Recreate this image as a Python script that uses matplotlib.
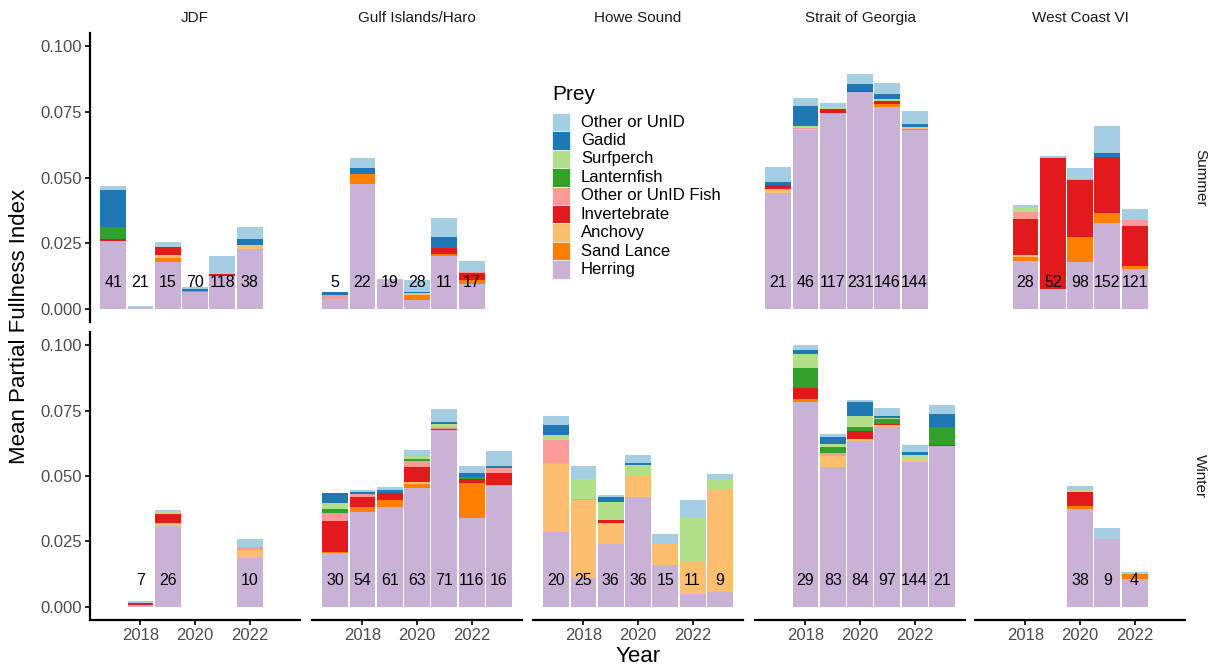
import numpy as np
import matplotlib.pyplot as plt
from matplotlib.patches import Rectangle

plt.rcParams['font.family'] = ['Liberation Sans', 'DejaVu Sans']

# stack order, bottom to top
prey = ['Herring', 'Sand Lance', 'Anchovy', 'Invertebrate', 'Other or UnID Fish',
        'Lanternfish', 'Surfperch', 'Gadid', 'Other or UnID']
prey_colors = ['#CAB2D6', '#FF7F00', '#FDBF6F', '#E31A1C', '#FB9A99',
               '#33A02C', '#B2DF8A', '#1F78B4', '#A6CEE3']

regions = ['JDF', 'Gulf Islands/Haro', 'Howe Sound', 'Strait of Georgia', 'West Coast VI']
seasons = ['Summer', 'Winter']

# ---- Summer ----
jdf_summer_years = [2017, 2018, 2019, 2020, 2021, 2022]
jdf_summer_n = [41, 21, 15, 70, 118, 38]
jdf_summer = [
    [0.0260, 0, 0, 0.0007, 0, 0.0043, 0, 0.0143, 0.0016],
    [0.0005, 0, 0, 0, 0, 0, 0, 0, 0.0006],
    [0.0180, 0.0013, 0.0013, 0.0028, 0, 0, 0, 0, 0.0022],
    [0.0065, 0.0004, 0, 0, 0, 0, 0, 0.0005, 0.0010],
    [0.0125, 0, 0, 0.0008, 0, 0, 0, 0, 0.0068],
    [0.0227, 0, 0.0015, 0, 0, 0, 0, 0.0025, 0.0043],
]

gulf_summer_years = [2017, 2018, 2019, 2020, 2021, 2022]
gulf_summer_n = [5, 22, 19, 28, 11, 17]
gulf_summer = [
    [0.0037, 0, 0, 0, 0.0015, 0, 0, 0.0013, 0],
    [0.0475, 0.0038, 0, 0, 0, 0, 0, 0.0023, 0.0037],
    [0.0110, 0, 0, 0, 0, 0, 0, 0, 0.0002],
    [0.0034, 0.0018, 0.0008, 0, 0, 0, 0, 0.0005, 0.0043],
    [0.0203, 0.0005, 0, 0.0025, 0, 0, 0, 0.0039, 0.0072],
    [0.0094, 0.0016, 0, 0.0027, 0.0004, 0, 0, 0, 0.0043],
]

howe_summer_years = []
howe_summer_n = []
howe_summer = []

sog_summer_years = [2017, 2018, 2019, 2020, 2021, 2022]
sog_summer_n = [21, 46, 117, 231, 146, 144]
sog_summer = [
    [0.0440, 0, 0.0015, 0.0016, 0, 0, 0, 0.0013, 0.0055],
    [0.0681, 0, 0.0003, 0, 0.0003, 0, 0.0009, 0.0077, 0.0028],
    [0.0747, 0, 0, 0.0015, 0, 0, 0.0006, 0, 0.0016],
    [0.0824, 0, 0, 0.0005, 0, 0, 0, 0.0027, 0.0038],
    [0.0768, 0.0010, 0, 0.0013, 0, 0, 0.0008, 0.0018, 0.0042],
    [0.0680, 0.0006, 0.0008, 0, 0, 0, 0, 0.0010, 0.0051],
]

wcvi_summer_years = [2018, 2019, 2020, 2021, 2022]
wcvi_summer_n = [28, 52, 98, 152, 121]
wcvi_summer = [
    [0.0183, 0.0013, 0.0010, 0.0137, 0.0025, 0, 0.0019, 0, 0.0010],
    [0.0077, 0, 0, 0.0496, 0, 0, 0, 0, 0.0010],
    [0.0179, 0.0093, 0, 0.0217, 0.0004, 0, 0, 0, 0.0043],
    [0.0326, 0.0038, 0, 0.0213, 0, 0, 0, 0.0018, 0.0101],
    [0.0151, 0.0013, 0, 0.0150, 0.0025, 0, 0, 0, 0.0042],
]

# ---- Winter ----
jdf_winter_years = [2018, 2019, 2022]
jdf_winter_n = [7, 26, 10]
jdf_winter = [
    [0.0006, 0, 0, 0.0010, 0, 0, 0, 0, 0.0006],
    [0.0310, 0, 0.0011, 0.0033, 0, 0, 0.0011, 0, 0.0004],
    [0.0188, 0, 0.0029, 0, 0.0010, 0, 0, 0, 0.0032],
]

gulf_winter_years = [2017, 2018, 2019, 2020, 2021, 2022, 2023]
gulf_winter_n = [30, 54, 61, 63, 71, 116, 16]
gulf_winter = [
    [0.0205, 0.0003, 0, 0.0122, 0.0029, 0.0014, 0.0025, 0.0036, 0],
    [0.0361, 0.0019, 0, 0.0041, 0.0009, 0, 0, 0.0009, 0.0006],
    [0.0383, 0.0024, 0, 0.0027, 0, 0, 0, 0.0013, 0.0011],
    [0.0454, 0.0015, 0.0009, 0.0056, 0.0024, 0.0008, 0.0010, 0, 0.0025],
    [0.0674, 0, 0, 0.0006, 0.0009, 0, 0.0008, 0.0009, 0.0051],
    [0.0341, 0.0131, 0, 0.0018, 0, 0.0006, 0, 0.0014, 0.0028],
    [0.0466, 0, 0, 0.0047, 0.0017, 0, 0, 0.0009, 0.0057],
]

howe_winter_years = [2017, 2018, 2019, 2020, 2021, 2022, 2023]
howe_winter_n = [20, 25, 36, 36, 15, 11, 9]
howe_winter = [
    [0.0286, 0, 0.0262, 0, 0.0089, 0, 0.0020, 0.0039, 0.0032],
    [0.0112, 0, 0.0296, 0, 0.0004, 0, 0.0076, 0, 0.0052],
    [0.0239, 0, 0.0080, 0.0013, 0, 0, 0.0070, 0.0017, 0.0010],
    [0.0421, 0, 0.0081, 0, 0, 0, 0.0039, 0.0009, 0.0032],
    [0.0160, 0, 0.0080, 0, 0, 0, 0, 0, 0.0037],
    [0.0050, 0, 0.0123, 0, 0, 0, 0.0165, 0, 0.0069],
    [0.0058, 0, 0.0394, 0, 0, 0, 0.0037, 0, 0.0020],
]

sog_winter_years = [2018, 2019, 2020, 2021, 2022, 2023]
sog_winter_n = [29, 83, 84, 97, 144, 21]
sog_winter = [
    [0.0784, 0.0010, 0, 0.0043, 0, 0.0075, 0.0053, 0.0018, 0.0017],
    [0.0533, 0, 0.0043, 0, 0.0011, 0.0023, 0.0011, 0.0028, 0.0011],
    [0.0635, 0, 0.0008, 0.0028, 0, 0.0018, 0.0042, 0.0052, 0.0009],
    [0.0686, 0, 0.0009, 0.0005, 0, 0.0017, 0.0006, 0.0008, 0.0027],
    [0.0553, 0, 0.0011, 0, 0, 0, 0.0018, 0.0010, 0.0027],
    [0.0616, 0, 0, 0.0004, 0, 0.0067, 0, 0.0051, 0.0032],
]

wcvi_winter_years = [2020, 2021, 2022]
wcvi_winter_n = [38, 9, 4]
wcvi_winter = [
    [0.0374, 0.0011, 0, 0.0052, 0, 0, 0.0008, 0, 0.0018],
    [0.0258, 0, 0, 0, 0, 0, 0, 0, 0.0043],
    [0.0107, 0.0018, 0, 0, 0, 0, 0, 0, 0.0010],
]

panels = {
    ('Summer', 'JDF'): (jdf_summer_years, jdf_summer_n, jdf_summer),
    ('Summer', 'Gulf Islands/Haro'): (gulf_summer_years, gulf_summer_n, gulf_summer),
    ('Summer', 'Howe Sound'): (howe_summer_years, howe_summer_n, howe_summer),
    ('Summer', 'Strait of Georgia'): (sog_summer_years, sog_summer_n, sog_summer),
    ('Summer', 'West Coast VI'): (wcvi_summer_years, wcvi_summer_n, wcvi_summer),
    ('Winter', 'JDF'): (jdf_winter_years, jdf_winter_n, jdf_winter),
    ('Winter', 'Gulf Islands/Haro'): (gulf_winter_years, gulf_winter_n, gulf_winter),
    ('Winter', 'Howe Sound'): (howe_winter_years, howe_winter_n, howe_winter),
    ('Winter', 'Strait of Georgia'): (sog_winter_years, sog_winter_n, sog_winter),
    ('Winter', 'West Coast VI'): (wcvi_winter_years, wcvi_winter_n, wcvi_winter),
}

W, H = 1209, 668
fig = plt.figure(figsize=(W / 100, H / 100), dpi=100)

col_left = [90, 312, 533, 755, 975]
col_w = 210
row_top = [33, 332]
row_bot = [322, 620]
grey = '#4D4D4D'

for r, season in enumerate(seasons):
    for c, region in enumerate(regions):
        ax = fig.add_axes([col_left[c] / W, 1 - row_bot[r] / H,
                           col_w / W, (row_bot[r] - row_top[r]) / H])
        years, ns, vals = panels[(season, region)]
        if len(years):
            vals = np.array(vals)
            bottom = np.zeros(len(years))
            for k in range(len(prey)):
                ax.bar(years, vals[:, k], bottom=bottom, width=0.95,
                       color=prey_colors[k], linewidth=0)
                bottom += vals[:, k]
            for yr, n in zip(years, ns):
                ax.text(yr, 0.01, str(n), ha='center', va='center',
                        fontsize=11.5, color='black')
        ax.set_xlim(2016.15, 2023.85)
        ax.set_ylim(-0.005, 0.105)
        ax.patch.set_visible(False)
        for s in ['top', 'right']:
            ax.spines[s].set_visible(False)
        ax.spines['left'].set_visible(c == 0)
        ax.spines['bottom'].set_visible(r == 1)
        ax.spines['left'].set_linewidth(1.6)
        ax.spines['bottom'].set_linewidth(1.6)
        ax.set_yticks([0, 0.025, 0.05, 0.075, 0.1])
        ax.set_yticklabels(['0.000', '0.025', '0.050', '0.075', '0.100'])
        ax.set_xticks([2018, 2020, 2022])
        ax.tick_params(axis='both', length=3.5, width=1.2, color='black',
                       labelsize=12, labelcolor=grey, pad=2)
        ax.tick_params(axis='y', left=(c == 0), labelleft=(c == 0))
        ax.tick_params(axis='x', bottom=(r == 1), labelbottom=(r == 1))
        if r == 0:
            fig.text((col_left[c] + col_w / 2) / W, 1 - 18 / H, region,
                     ha='center', va='center', fontsize=11, color='#1A1A1A')
    fig.text(1200 / W, 1 - (row_top[r] + row_bot[r]) / 2 / H, season,
             rotation=-90, ha='center', va='center', fontsize=11, color='#1A1A1A')

fig.text(20 / W, 1 - 326 / H, 'Mean Partial Fullness Index', rotation=90,
         ha='center', va='center', fontsize=16)
fig.text(638 / W, 1 - 656 / H, 'Year', ha='center', va='center', fontsize=16)

# legend (top to bottom = reverse of stack)
fig.text(552 / W, 1 - 95 / H, 'Prey', ha='left', va='center', fontsize=15)
key_h = 18.4
for i, k in enumerate(range(len(prey) - 1, -1, -1)):
    y_top = 113 + key_h * i
    fig.add_artist(Rectangle((552 / W, 1 - (y_top + key_h) / H), 18 / W, key_h / H,
                             transform=fig.transFigure, facecolor=prey_colors[k],
                             edgecolor='white', linewidth=0.5))
    fig.text(581 / W, 1 - (y_top + key_h / 2) / H, prey[k], ha='left', va='center',
             fontsize=12)

fig.savefig('out.png', dpi=100)
